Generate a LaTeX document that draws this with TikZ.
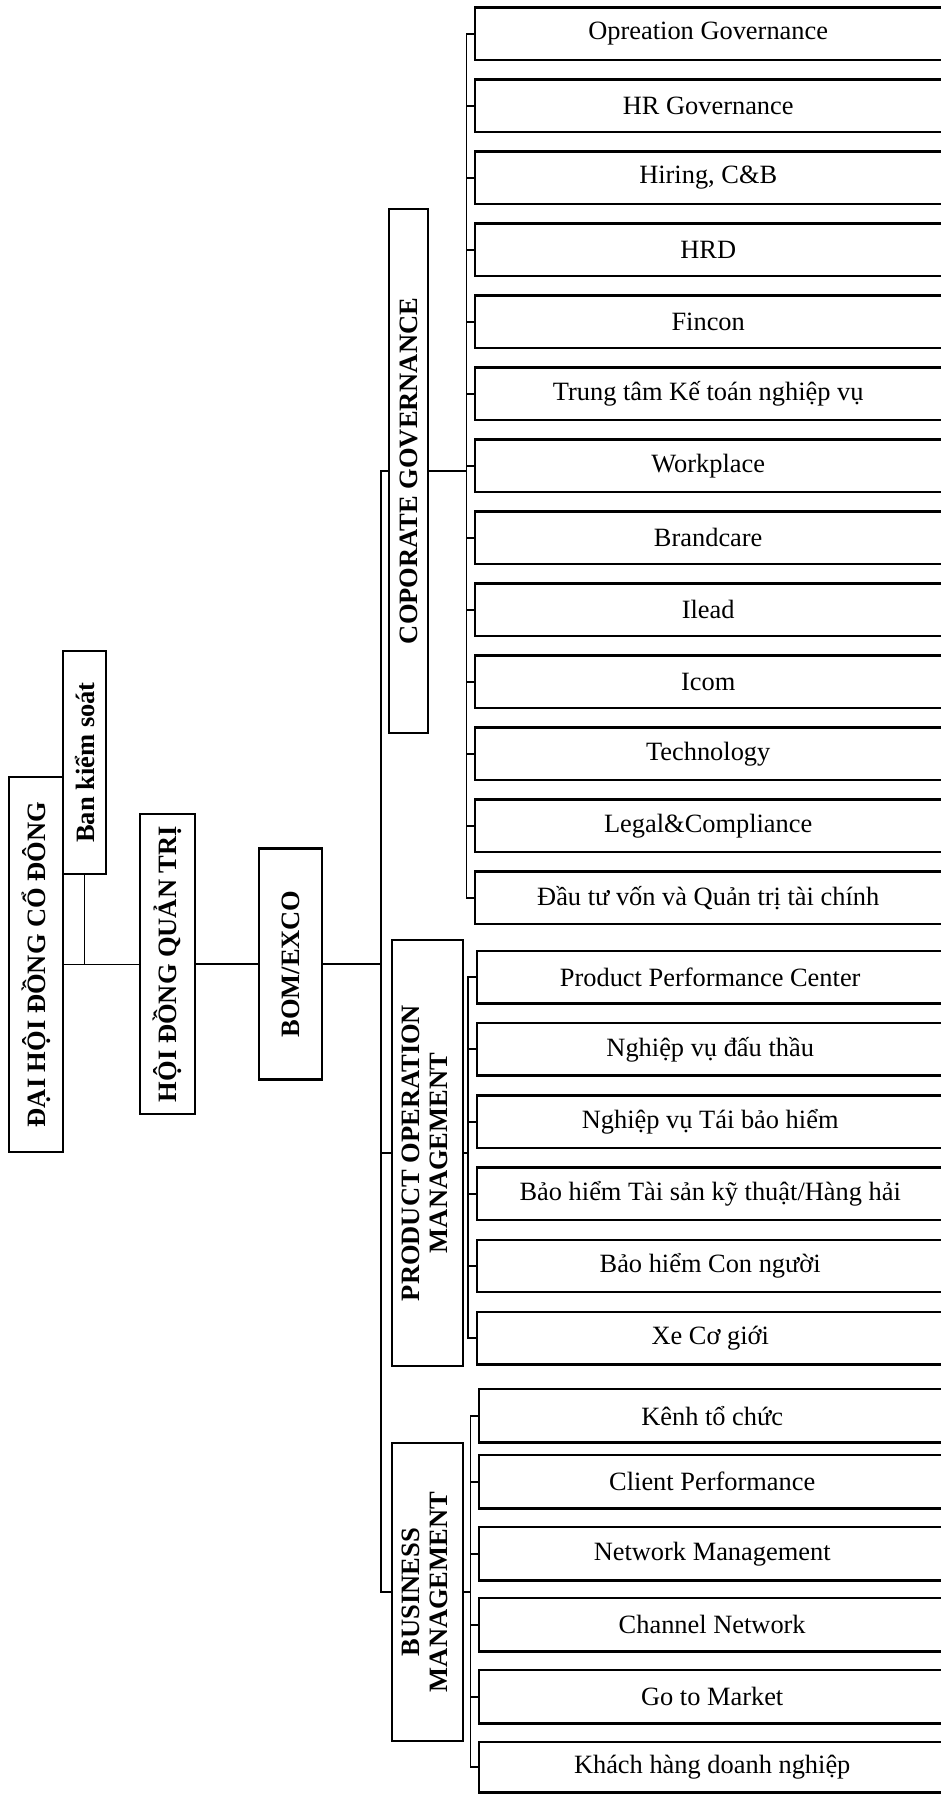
\documentclass[tikz,border=0pt]{standalone}
\usepackage{fontspec}
\setmainfont{Liberation Serif}
\usepackage{graphicx}
\begin{document}
\begin{tikzpicture}[x=1pt,y=-1pt]
\tikzset{
  lbox/.style={draw, line width=2.2pt, inner sep=0pt, align=center,
    font=\fontsize{26.5}{28}\selectfont\bfseries},
  kid/.style={inner sep=0pt, anchor=north west,
    minimum width=466pt, minimum height=52pt,
    font=\fontsize{26.4}{30}\selectfont},
  openbox/.style={line width=2.3pt, line join=miter},
  wire/.style={line width=1.9pt}
}
\useasboundingbox (0,0) rectangle (941,1795);
\fill[white] (0,0) rectangle (941,1795);
\clip (0,0) rectangle (941,1795);

% left chain
\node[lbox, minimum width=54pt, minimum height=375pt] (dhcd) at (36,964.5)
  {\rotatebox{90}{ĐẠI HỘI ĐỒNG CỔ ĐÔNG}};
\node[lbox, minimum width=43pt, minimum height=223pt] (bks) at (84.5,762.5)
  {\rotatebox{90}{Ban kiểm soát}};
\node[lbox, minimum width=55pt, minimum height=300pt] (hdqt) at (167.5,964)
  {\rotatebox{90}{HỘI ĐỒNG QUẢN TRỊ}};
\node[lbox, minimum width=63pt, minimum height=231pt] (bom) at (290.5,964)
  {\rotatebox{90}{BOM/EXCO}};

% divisions
\node[lbox, minimum width=39pt, minimum height=524pt] (cg) at (408.5,471)
  {\rotatebox{90}{COPORATE GOVERNANCE}};
\node[lbox, minimum width=71pt, minimum height=426pt] (pom) at (427.5,1153)
  {\rotatebox{90}{\begin{tabular}{@{}c@{}}PRODUCT OPERATION\\MANAGEMENT\end{tabular}}};
\node[lbox, minimum width=71pt, minimum height=298pt] (bm) at (427.5,1592)
  {\rotatebox{90}{\begin{tabular}{@{}c@{}}BUSINESS\\MANAGEMENT\end{tabular}}};

\coordinate (sp) at (381,0);
\coordinate (cgs) at (466.5,0);
\coordinate (poms) at (468,0);
\coordinate (bms) at (470.5,0);

% Coporate governance children
\node[kid] (g1) at (475,7.5) {Opreation Governance};
\node[kid] (g2) at (475,79.5) {HR Governance};
\node[kid] (g3) at (475,151.5) {Hiring, C\&B};
\node[kid] (g4) at (475,223.5) {HRD};
\node[kid] (g5) at (475,295.5) {Fincon};
\node[kid] (g6) at (475,367.5) {Trung tâm Kế toán nghiệp vụ};
\node[kid] (g7) at (475,439.5) {Workplace};
\node[kid] (g8) at (475,511.5) {Brandcare};
\node[kid] (g9) at (475,583.5) {Ilead};
\node[kid] (g10) at (475,655.5) {Icom};
\node[kid] (g11) at (475,727.5) {Technology};
\node[kid] (g12) at (475,799.5) {Legal\&Compliance};
\node[kid] (g13) at (475,871.5) {Đầu tư vốn và Quản trị tài chính};

% Product operation children
\node[kid] (p1) at (477,951) {Product Performance Center};
\node[kid] (p2) at (477,1023.2) {Nghiệp vụ đấu thầu};
\node[kid] (p3) at (477,1095.4) {Nghiệp vụ Tái bảo hiểm};
\node[kid] (p4) at (477,1167.6) {Bảo hiểm Tài sản kỹ thuật/Hàng hải};
\node[kid] (p5) at (477,1239.8) {Bảo hiểm Con người};
\node[kid] (p6) at (477,1312) {Xe Cơ giới};

% Business management children
\node[kid, minimum height=53pt] (b1) at (479,1389) {Kênh tổ chức};
\node[kid, minimum height=53pt] (b2) at (479,1455) {Client Performance};
\node[kid, minimum height=53pt] (b3) at (479,1527) {Network Management};
\node[kid, minimum height=53pt] (b4) at (479,1598) {Channel Network};
\node[kid, minimum height=53pt] (b5) at (479,1670) {Go to Market};
\node[kid, minimum height=50pt] (b6) at (479,1742) {Khách hàng doanh nghiệp};

% child boxes: open on the right, where the page cuts them
\foreach \n in {g1,g2,g3,g4,g5,g6,g7,g8,g9,g10,g11,g12,g13,p1,p2,p3,p4,p5,p6,b1,b2,b3,b4,b5,b6}
  \draw[openbox] ([xshift=20pt]\n.north east) -- (\n.north west) -- (\n.south west) -- ([xshift=20pt]\n.south east);

% connectors, left chain
\draw[wire] (dhcd.east) -- (dhcd.east -| hdqt.west);
\draw[wire] (bks.south) -- (bks.south |- dhcd.east);
\draw[wire] (hdqt.east) -- (bom.west);
\draw[wire] (bom.east) -- (bom.east -| sp);
% spine
\draw[wire] (cg.west) -- (cg.west -| sp) -- (bm.west -| sp) -- (bm.west);
\draw[wire] (pom.west -| sp) -- (pom.west);

% CG sub-spine
\draw[wire] (cg.east) -- (cg.east -| cgs);
\draw[wire] (g1.west) -- (g1.west -| cgs) -- (g13.west -| cgs) -- (g13.west);
\foreach \n in {g2,g3,g4,g5,g6,g7,g8,g9,g10,g11,g12}
  \draw[wire] (\n.west) -- (\n.west -| cgs);

% POM sub-spine
\draw[wire] (pom.east) -- (pom.east -| poms);
\draw[wire] (p1.west) -- (p1.west -| poms) -- (p6.west -| poms) -- (p6.west);
\foreach \n in {p2,p3,p4,p5}
  \draw[wire] (\n.west) -- (\n.west -| poms);

% BM sub-spine
\draw[wire] (bm.east) -- (bm.east -| bms);
\draw[wire] (b1.west) -- (b1.west -| bms) -- (b6.west -| bms) -- (b6.west);
\foreach \n in {b2,b3,b4,b5}
  \draw[wire] (\n.west) -- (\n.west -| bms);
\end{tikzpicture}
\end{document}
